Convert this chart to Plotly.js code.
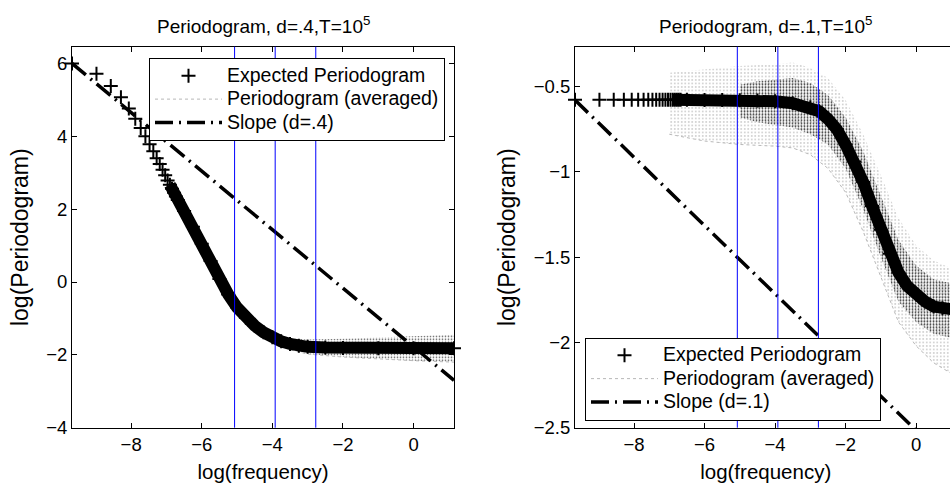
<!DOCTYPE html>
<html>
<head>
<meta charset="utf-8">
<script src="https://cdn.plot.ly/plotly-3.0.1.min.js"></script>
<style>
html,body{margin:0;padding:0;overflow:hidden;background:#fff;}
#chart{width:960px;height:491px;}
</style>
</head>
<body>
<div id="chart"></div>
<script>
// ---------- data (log frequency / log periodogram) ----------
// Left panel: d = .4
const logFreqL = [-9.675,-8.982,-8.576,-8.289,-8.066,-7.883,-7.729,-7.596,-7.478,-7.372,-7.277,-7.190,-7.110,-7.036,-6.967,-6.902,-6.843,-6.785,-6.731,-6.679,
  -6.5,-6.25,-6.0,-5.75,-5.5,-5.25,-5.0,-4.75,-4.5,-4.25,-4.0,-3.75,-3.5,-3.25,-3.0,-2.5,-2.0,-1.0,0,1.145];
const expPerL = [6.0,5.72,5.38,5.07,4.76,4.48,4.23,4.0,3.78,3.59,3.40,3.24,3.08,2.93,2.79,2.67,2.56,2.45,2.35,2.25,
  1.95,1.52,1.05,0.58,0.08,-0.34,-0.70,-0.98,-1.2,-1.38,-1.52,-1.63,-1.70,-1.75,-1.78,-1.80,-1.81,-1.82,-1.82,-1.82];
const perXL      = [-5.5,-5.0,-4.5,-4.0,-3.5,-3.0,-2.0,-1.0,0,1.145];
const perUpperL  = [0.12,-0.64,-1.12,-1.42,-1.55,-1.58,-1.56,-1.52,-1.48,-1.45];
const perLowerL  = [0.04,-0.76,-1.28,-1.63,-1.86,-1.98,-2.06,-2.12,-2.16,-2.2];
const slopeXL = [-9.675, 1.145];
const slopeYL = [6.0, -2.7];

// Right panel: d = .1
const logFreqR = [-9.675,-8.982,-8.576,-8.289,-8.066,-7.883,-7.729,-7.596,-7.478,-7.372,-7.277,-7.190,-7.110,-7.036,-6.967,-6.902,-6.843,-6.785,-6.731,-6.679,
  -6.5,-6.0,-5.5,-5.0,-4.5,-4.0,-3.5,-3.0,-2.75,-2.5,-2.25,-2.0,-1.75,-1.5,-1.25,-1.0,-0.75,-0.5,-0.25,0,0.25,0.5,0.75,1.0,1.145];
const expPerR = [-0.578,-0.578,-0.578,-0.578,-0.578,-0.578,-0.578,-0.578,-0.578,-0.578,-0.578,-0.578,-0.578,-0.578,-0.578,-0.578,-0.578,-0.578,-0.578,-0.578,
  -0.578,-0.579,-0.58,-0.581,-0.583,-0.587,-0.598,-0.622,-0.645,-0.69,-0.75,-0.84,-0.94,-1.06,-1.20,-1.34,-1.48,-1.59,-1.67,-1.72,-1.76,-1.79,-1.80,-1.81,-1.81];
const perXR        = [-7.0,-6.0,-5.0,-4.0,-3.5,-3.0,-2.5,-2.0,-1.5,-1.0,-0.5,0,0.5,1.145];
const perOutUpR    = [-0.42,-0.40,-0.38,-0.37,-0.36,-0.39,-0.45,-0.58,-0.78,-1.02,-1.27,-1.43,-1.52,-1.58];
const perOutLowR   = [-0.78,-0.82,-0.84,-0.85,-0.86,-0.90,-0.98,-1.12,-1.35,-1.62,-1.88,-2.02,-2.12,-2.2];
const perInXR      = [-5.0,-4.5,-3.5,-3.0,-2.5,-2.0,-1.5,-1.0,-0.5,0,0.5,1.145];
const perInUpR     = [-0.49,-0.47,-0.45,-0.48,-0.55,-0.68,-0.88,-1.14,-1.40,-1.55,-1.63,-1.66];
const perInLowR    = [-0.68,-0.71,-0.74,-0.78,-0.84,-0.98,-1.22,-1.50,-1.76,-1.88,-1.95,-1.98];
const slopeXR = [-9.675, 1.145];
const slopeYR = [-0.58, -2.744];

// bandwidth frequencies log(2*pi*T^a/T), a = .4, .5, .6
const bandLines = [-5.07, -3.92, -2.77];

const denseStart = 15; // index from which '+' markers merge into a solid band
const FONT = 'Liberation Sans, Arial, Helvetica, sans-serif';
const legTxt = s => '<span style="font-size:19.5px">' + s + '</span>';

function panel(xa, ya, leg, X, Y, slopeX, slopeY, dName, bands){
  const tr = [];
  bands.forEach((b, i) => {
    tr.push({x:b.x, y:b.lo, xaxis:xa, yaxis:ya, legend:leg, type:'scatter', mode:'lines',
      name:legTxt('Periodogram (averaged)'), showlegend: i===0, legendrank:2,
      line:{color: i===0 ? '#b8b8b8' : 'rgba(0,0,0,0)', width:1, dash:'dot'}, hoverinfo:'skip'});
    tr.push({x:b.x, y:b.hi, xaxis:xa, yaxis:ya, legend:leg, type:'scatter', mode:'lines',
      showlegend:false, fill:'tonexty', fillcolor:'rgba(0,0,0,0)',
      fillpattern:{shape:'.', fgcolor:b.col, size:b.size, solidity:b.sol},
      line:{width:0, color:'rgba(0,0,0,0)'}, hoverinfo:'skip'});
  });
  tr.push({x:X.slice(denseStart), y:Y.slice(denseStart), xaxis:xa, yaxis:ya, legend:leg, type:'scatter', mode:'lines',
    showlegend:false, line:{color:'#000', width:12}, hoverinfo:'skip'});
  tr.push({x:X, y:Y, xaxis:xa, yaxis:ya, legend:leg, type:'scatter', mode:'markers', cliponaxis:false,
    name:legTxt('Expected Periodogram'), legendrank:1,
    marker:{symbol:'cross-thin', size:10, color:'#000', line:{color:'#000', width:2}}});
  tr.push({x:slopeX, y:slopeY, xaxis:xa, yaxis:ya, legend:leg, type:'scatter', mode:'lines',
    name:legTxt(dName), legendrank:3, line:{color:'#000', width:3.5, dash:'18px,6px,2px,6px'}});
  return tr;
}

const traces = [].concat(
  panel('x','y','legend', logFreqL, expPerL, slopeXL, slopeYL, 'Slope (d=.4)',
    [{x:perXL, lo:perLowerL, hi:perUpperL, col:'#555', size:3, sol:0.25}]),
  panel('x2','y2','legend2', logFreqR, expPerR, slopeXR, slopeYR, 'Slope (d=.1)',
    [{x:perXR, lo:perOutLowR, hi:perOutUpR, col:'#999', size:3.5, sol:0.12},
     {x:perInXR, lo:perInLowR, hi:perInUpR, col:'#333', size:3, sol:0.28}])
);

const W = 960, H = 491;
const axCommon = {showline:true, linecolor:'#000', linewidth:1, mirror:'ticks', ticks:'inside', ticklen:5,
  tickcolor:'#000', showgrid:false, zeroline:false, tickfont:{family:FONT, size:18.5, color:'#000'}};
const yDom = [(H-427.7)/H, (H-46.7)/H];

const shapes = [];
['x','x2'].forEach(xr => {
  bandLines.forEach(v => shapes.push({type:'line', layer:'above', xref:xr, yref:(xr==='x'?'y':'y2')+' domain',
    x0:v, x1:v, y0:0, y1:1, line:{color:'#0000ff', width:1}}));
});

const legCommon = {xanchor:'left', yanchor:'top', bgcolor:'#fff', bordercolor:'#000', borderwidth:1,
  font:{family:FONT, size:15.7}, itemwidth:67, tracegroupgap:0, traceorder:'normal'};

const layout = {
  width:W, height:H, margin:{l:0,r:0,t:0,b:0}, paper_bgcolor:'#fff', plot_bgcolor:'#fff',
  font:{family:FONT, color:'#000'},
  xaxis: Object.assign({}, axCommon, {domain:[72/W, 454/W], range:[-9.675,1.145], tick0:0, dtick:2,
    title:{text:'log(frequency)', font:{family:FONT,size:20.5}, standoff:10}}),
  yaxis: Object.assign({}, axCommon, {domain:yDom, range:[-4,6.46], tick0:0, dtick:2,
    title:{text:'log(Periodogram)', font:{family:FONT,size:23}, standoff:11}}),
  xaxis2: Object.assign({}, axCommon, {anchor:'y2', domain:[575/W, 956.4/W], range:[-9.675,1.145], tick0:0, dtick:2,
    title:{text:'log(frequency)', font:{family:FONT,size:20.5}, standoff:10}}),
  yaxis2: Object.assign({}, axCommon, {anchor:'x2', domain:yDom, range:[-2.5,-0.267], tick0:0, dtick:0.5,
    title:{text:'log(Periodogram)', font:{family:FONT,size:23}, standoff:11}}),
  legend: Object.assign({}, legCommon, {x:149/W, y:(H-58)/H}),
  legend2: Object.assign({}, legCommon, {x:585/W, y:(H-337.5)/H}),
  shapes: shapes,
  annotations:[
    {text:'Periodogram, d=.4,T=10<sup>5</sup>', xref:'paper', yref:'paper', x:263/W, y:(H-25)/H, xanchor:'center', yanchor:'middle', showarrow:false, font:{family:FONT,size:19}},
    {text:'Periodogram, d=.1,T=10<sup>5</sup>', xref:'paper', yref:'paper', x:765.7/W, y:(H-25)/H, xanchor:'center', yanchor:'middle', showarrow:false, font:{family:FONT,size:19}}
  ],
  showlegend:true
};

Plotly.newPlot('chart', traces, layout, {displayModeBar:false, staticPlot:true});
</script>
</body>
</html>
